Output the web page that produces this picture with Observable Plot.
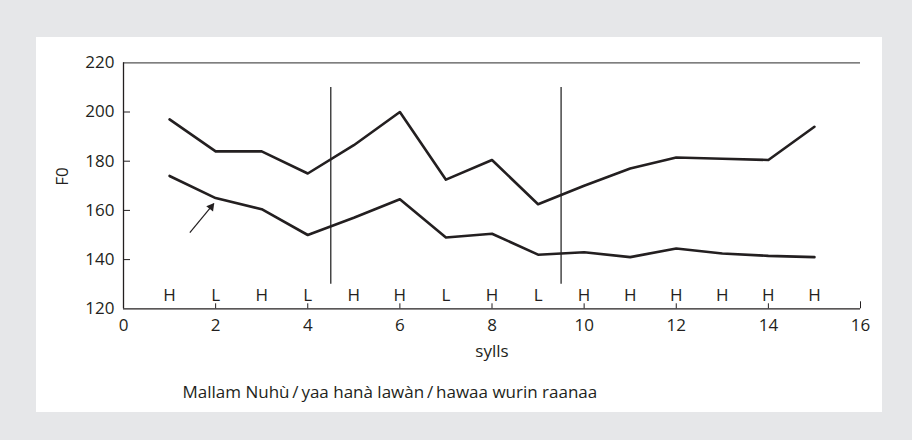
<!DOCTYPE html>
<html>
<head>
<meta charset="utf-8">
<script src="https://cdn.jsdelivr.net/npm/d3@7"></script>
<script src="https://cdn.jsdelivr.net/npm/@observablehq/plot@0.6"></script>
<style>
  html, body { margin: 0; padding: 0; }
  body { width: 912px; height: 440px; background: #e6e7e9; position: relative; overflow: hidden; }
  #panel { position: absolute; left: 36px; top: 37px; width: 846px; height: 375px; background: #ffffff; }
  #chart { position: absolute; left: 0; top: 0; }
</style>
</head>
<body>
<div id="panel"></div>
<div id="chart"></div>
<script>
// Syllable positions
const sylls = [1, 2, 3, 4, 5, 6, 7, 8, 9, 10, 11, 12, 13, 14, 15];
// Upper F0 contour (Hz)
const upperF0 = [197, 184, 184, 175, 186.5, 200, 172.5, 180.5, 162.5, 170, 177, 181.5, 181, 180.5, 194];
// Lower F0 contour (Hz)
const lowerF0 = [174, 165, 160.5, 150, 157, 164.5, 149, 150.5, 142, 143, 141, 144.5, 142.5, 141.5, 141];
// Tone labels per syllable
const tones = ["H", "L", "H", "L", "H", "H", "L", "H", "L", "H", "H", "H", "H", "H", "H"];
// Phrase boundaries
const boundaries = [4.5, 9.5];
// Axis ticks
const xTickLabels = [0, 2, 4, 6, 8, 10, 12, 14, 16];
const xInnerTicks = [2, 4, 6, 8, 10, 12, 14];
const yTickLabels = [120, 140, 160, 180, 200, 220];
const yInnerTicks = [140, 160, 180, 200];
// Arrow annotation (tail -> tip)
const arrowPts = [{x1: 1.44, y1: 151, x2: 1.96, y2: 162.8}];
const caption = "Mallam Nuhù\u2009/\u2009yaa hanà lawàn\u2009/\u2009hawaa wurin raanaa";

const upper = sylls.map((s, i) => ({s, f0: upperF0[i]}));
const lower = sylls.map((s, i) => ({s, f0: lowerF0[i]}));
const ink = "#231f20";

const chart = Plot.plot({
  width: 912,
  height: 440,
  marginLeft: 123,
  marginRight: 52,
  marginTop: 62.3,
  marginBottom: 131.7,
  x: {domain: [0, 16]},
  y: {domain: [120, 220]},
  style: {background: "transparent", fontFamily: "'Open Sans', sans-serif", fontSize: "17px", color: ink},
  marks: [
    // frame lines
    Plot.ruleY([120], {stroke: ink, strokeWidth: 1.3}),
    Plot.ruleY([220], {stroke: "#555", strokeWidth: 1.2}),
    Plot.ruleX([0], {stroke: ink, strokeWidth: 1.3}),
    // ticks
    Plot.axisX({ticks: xInnerTicks, tickSize: -5, text: null, label: null, stroke: ink}),
    Plot.axisX({ticks: [16], tickSize: -7, text: null, label: null, stroke: ink}),
    Plot.axisX({ticks: xTickLabels, tickSize: 0, tickPadding: 10, label: null, fill: ink, tickFormat: d => String(d)}),
    Plot.axisY({ticks: yInnerTicks, tickSize: -7, text: null, label: null, stroke: ink}),
    Plot.axisY({ticks: yTickLabels, tickSize: 0, tickPadding: 9, label: null, fill: ink}),
    // phrase boundaries
    Plot.ruleX(boundaries, {y1: 130, y2: 210, stroke: "#2a2a2a", strokeWidth: 1.3}),
    // contours
    Plot.line(upper, {x: "s", y: "f0", stroke: ink, strokeWidth: 2.6}),
    Plot.line(lower, {x: "s", y: "f0", stroke: ink, strokeWidth: 2.6}),
    // tone labels
    Plot.text(tones, {x: (d, i) => sylls[i], text: d => d, frameAnchor: "bottom", dy: -8, fill: ink}),
    // arrow
    Plot.link(arrowPts, {x1: "x1", y1: "y1", x2: "x2", y2: "y2", stroke: ink, strokeWidth: 1.2}),
    Plot.dot(arrowPts, {x: "x2", y: "y2", symbol: "triangle", r: 3.2, fill: ink, stroke: null, rotate: 38, dx: -2.6, dy: 3.4}),
    // axis titles
    Plot.text(["sylls"], {x: 8, text: d => d, frameAnchor: "bottom", dy: 48, fill: ink}),
    Plot.text(["F0"], {text: d => d, frameAnchor: "left", dx: -61, rotate: -90, fill: ink}),
    // caption
    Plot.text([caption], {text: d => d, frameAnchor: "bottom-left", textAnchor: "start", dx: 59, dy: 89.5, fill: ink})
  ]
});
document.getElementById("chart").appendChild(chart);
</script>
</body>
</html>
